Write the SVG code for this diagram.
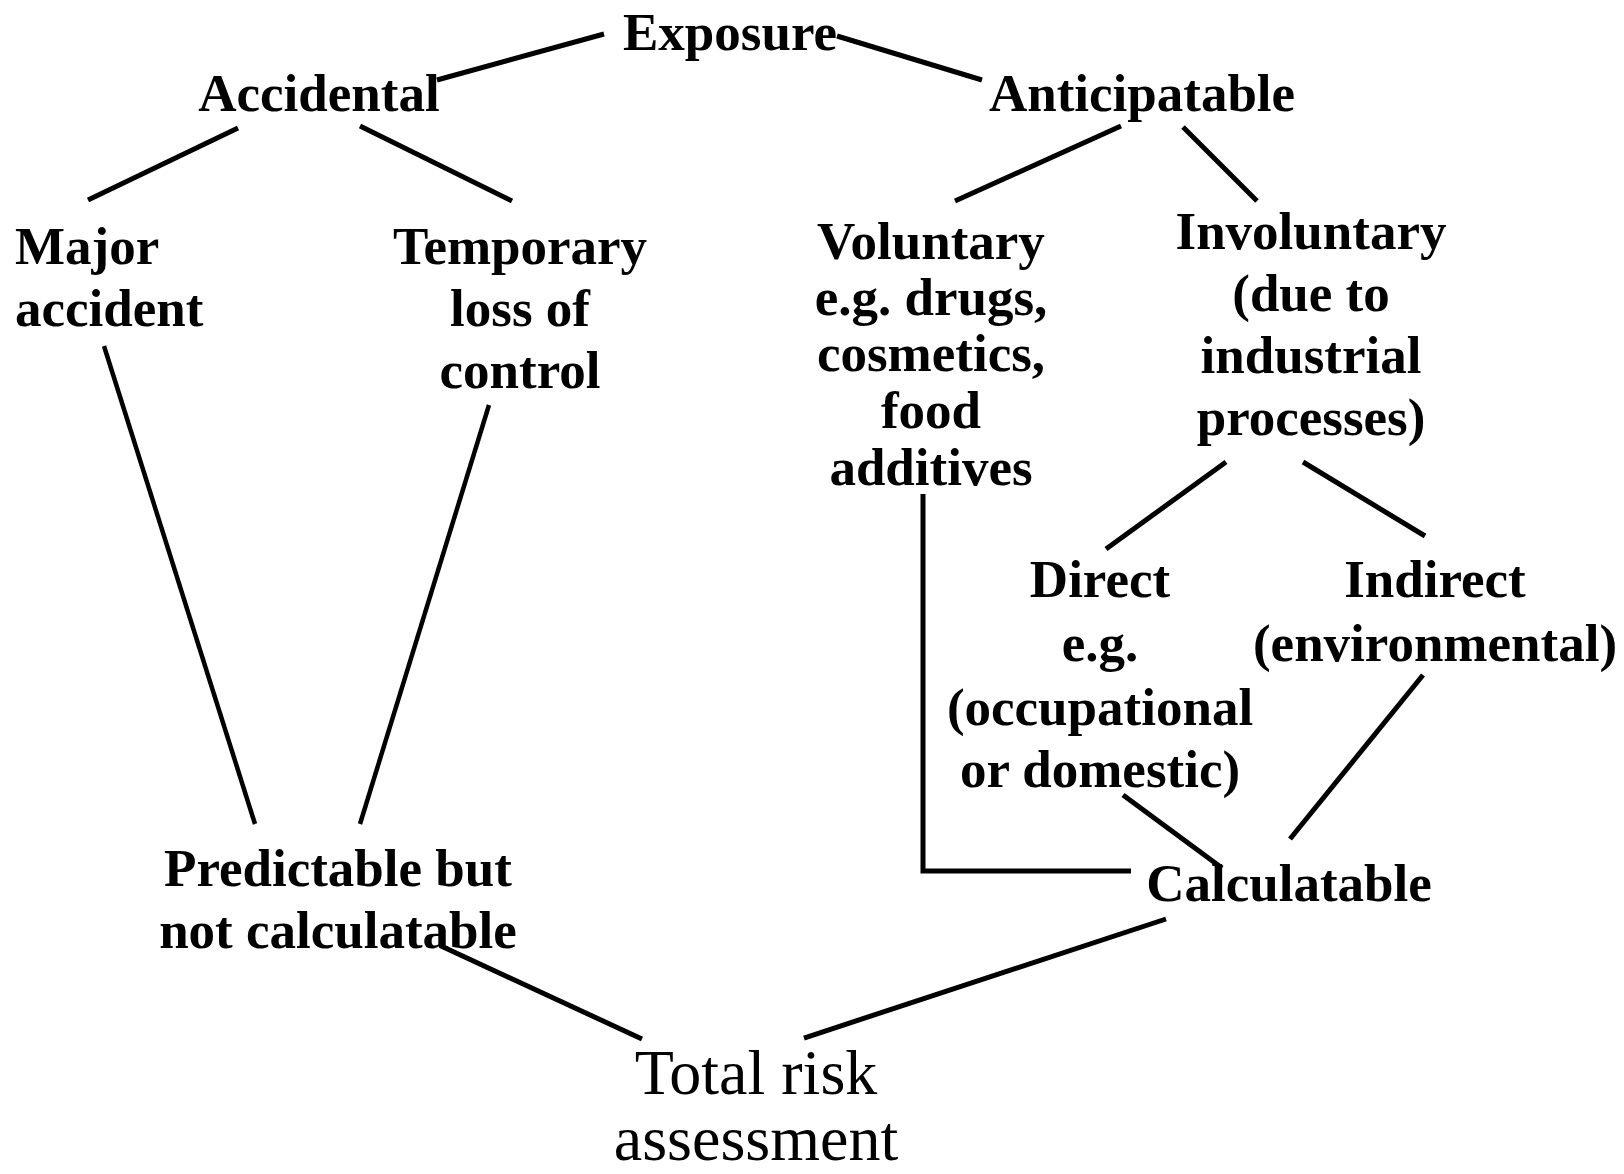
<svg xmlns="http://www.w3.org/2000/svg" width="1624" height="1174" viewBox="0 0 1624 1174">
  <style>
    .lbl { font-family: "Liberation Serif", "Times New Roman", serif; font-weight: bold; font-size: 53px; fill: #000; text-anchor: middle; }
    .left { text-anchor: start; }
    .total { font-family: "Liberation Serif", "Times New Roman", serif; font-weight: normal; font-size: 64px; fill: #000; text-anchor: middle; }
    .edge { stroke: #000; stroke-width: 5; fill: none; stroke-linecap: butt; }
    .thin { stroke-width: 4.5; }
  </style>
  <rect width="1624" height="1174" fill="#fff"/>

  <!-- connectors -->
  <g id="connectors">
    <line class="edge" x1="604" y1="34" x2="437" y2="80"/>
    <line class="edge" x1="837" y1="36" x2="982" y2="80"/>
    <line class="edge" x1="238" y1="128" x2="88" y2="200"/>
    <line class="edge" x1="360" y1="126" x2="512" y2="201"/>
    <line class="edge" x1="1121" y1="126" x2="955" y2="201"/>
    <line class="edge" x1="1183" y1="127" x2="1257" y2="201"/>
    <line class="edge" x1="1226" y1="462" x2="1106" y2="549"/>
    <line class="edge" x1="1303" y1="462" x2="1425" y2="536"/>
    <line class="edge thin" x1="104" y1="346" x2="255" y2="824"/>
    <line class="edge thin" x1="489" y1="405" x2="360" y2="824"/>
    <polyline class="edge" points="923,494 923,871 1131,871"/>
    <line class="edge" x1="1123" y1="795" x2="1222" y2="868"/>
    <line class="edge" x1="1423" y1="675" x2="1290" y2="839"/>
    <line class="edge" x1="441" y1="946" x2="642" y2="1039"/>
    <line class="edge" x1="1166" y1="919" x2="804" y2="1038"/>
  </g>

  <!-- nodes -->
  <g id="exposure"><text class="lbl" x="730" y="50">Exposure</text></g>
  <g id="accidental"><text class="lbl" x="319" y="111">Accidental</text></g>
  <g id="anticipatable"><text class="lbl" x="1142" y="111">Anticipatable</text></g>
  <g id="major-accident">
    <text class="lbl left" x="15" y="264">Major</text>
    <text class="lbl left" x="15" y="326">accident</text>
  </g>
  <g id="temporary-loss">
    <text class="lbl" x="520" y="264">Temporary</text>
    <text class="lbl" x="520" y="326">loss of</text>
    <text class="lbl" x="520" y="388">control</text>
  </g>
  <g id="voluntary">
    <text class="lbl" x="931" y="259">Voluntary</text>
    <text class="lbl" x="931" y="315">e.g. drugs,</text>
    <text class="lbl" x="931" y="371">cosmetics,</text>
    <text class="lbl" x="931" y="428">food</text>
    <text class="lbl" x="931" y="485">additives</text>
  </g>
  <g id="involuntary">
    <text class="lbl" x="1311" y="249">Involuntary</text>
    <text class="lbl" x="1311" y="311">(due to</text>
    <text class="lbl" x="1311" y="373">industrial</text>
    <text class="lbl" x="1311" y="435">processes)</text>
  </g>
  <g id="direct">
    <text class="lbl" x="1100" y="597">Direct</text>
    <text class="lbl" x="1100" y="661">e.g.</text>
    <text class="lbl" x="1100" y="725">(occupational</text>
    <text class="lbl" x="1100" y="787">or domestic)</text>
  </g>
  <g id="indirect">
    <text class="lbl" x="1435" y="597">Indirect</text>
    <text class="lbl" x="1435" y="661">(environmental)</text>
  </g>
  <g id="calculatable"><text class="lbl" x="1289" y="901">Calculatable</text></g>
  <g id="predictable">
    <text class="lbl" x="338" y="886">Predictable but</text>
    <text class="lbl" x="338" y="948">not calculatable</text>
  </g>
  <g id="total-risk">
    <text class="total" x="756" y="1094">Total risk</text>
    <text class="total" x="756" y="1160">assessment</text>
  </g>
</svg>
